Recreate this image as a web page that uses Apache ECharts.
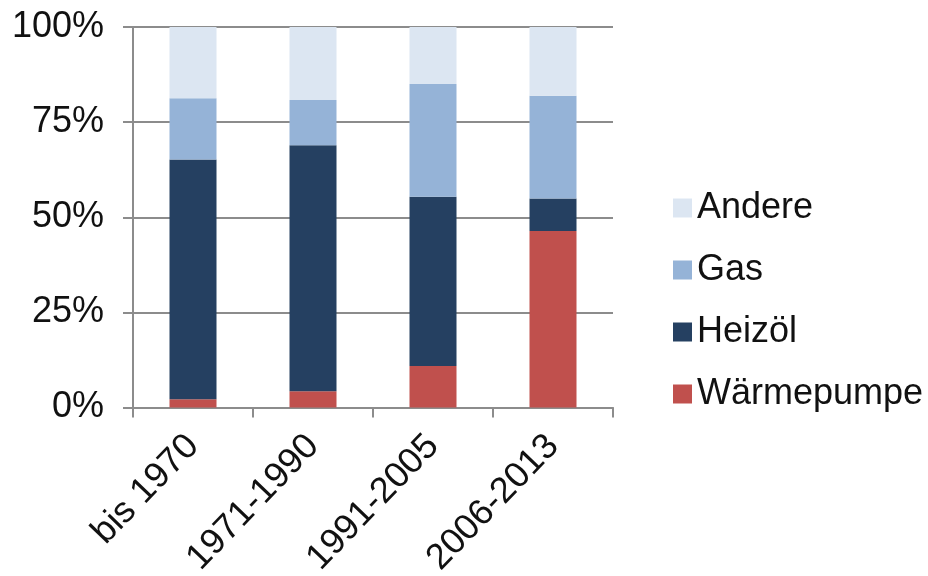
<!DOCTYPE html>
<html>
<head>
<meta charset="utf-8">
<script src="https://cdn.jsdelivr.net/npm/echarts@6/dist/echarts.min.js"></script>
<style>html,body{margin:0;padding:0;background:#fff;}#c{width:928px;height:576px;}</style>
</head>
<body>
<div id="c"></div>
<script>
const categories = ['bis 1970', '1971-1990', '1991-2005', '2006-2013'];
const waermepumpe = [2.2, 4.3, 10.9, 46.4];
const heizoel = [63.0, 64.6, 44.5, 8.5];
const gas = [16.1, 11.9, 29.6, 27.0];
const andere = [18.7, 19.2, 15.0, 18.1];
const legendOrder = ['Andere', 'Gas', 'Heizöl', 'Wärmepumpe'];

const chart = echarts.init(document.getElementById('c'));
const FONT = 'Liberation Sans, Arial, sans-serif';
const gridColor = '#8c8c8c';
function bar(name, data, color) {
  return { name, type: 'bar', stack: 's', data, barWidth: 47, itemStyle: { color }, emphasis: { disabled: true } };
}
chart.setOption({
  animation: false,
  textStyle: { fontFamily: FONT },
  grid: { left: 133, right: 315, top: 27, bottom: 168.5, containLabel: false, outerBoundsMode: 'none' },
  legend: {
    orient: 'vertical', left: 668, top: 185,
    data: legendOrder,
    itemWidth: 19, itemHeight: 19, itemGap: 26,
    icon: 'rect',
    textStyle: { fontSize: 36, color: '#111', fontFamily: FONT, lineHeight: 36 }
  },
  xAxis: {
    type: 'category', data: categories,
    axisLine: { lineStyle: { color: gridColor, width: 2 } },
    axisTick: { show: true, length: 10, lineStyle: { color: gridColor, width: 2 } },
    axisLabel: { rotate: 46, fontSize: 36, color: '#111', margin: 33, interval: 0, fontFamily: FONT }
  },
  yAxis: {
    type: 'value', min: 0, max: 100, interval: 25,
    axisLine: { show: true, lineStyle: { color: gridColor, width: 2 } },
    axisTick: { show: true, length: 10, lineStyle: { color: gridColor, width: 2 } },
    splitLine: { lineStyle: { color: gridColor, width: 2 } },
    axisLabel: { formatter: '{value}%', fontSize: 36, color: '#111', margin: 29, fontFamily: FONT }
  },
  series: [
    bar('Wärmepumpe', waermepumpe, '#C0504D'),
    bar('Heizöl', heizoel, '#254061'),
    bar('Gas', gas, '#95B3D7'),
    bar('Andere', andere, '#DCE6F2')
  ]
});
</script>
</body>
</html>
